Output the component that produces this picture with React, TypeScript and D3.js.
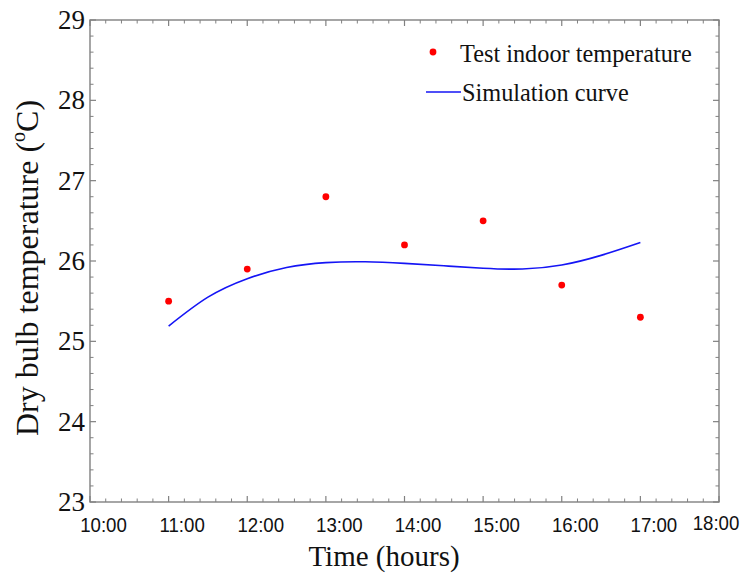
import React from 'react';
import * as d3 from 'd3';

// measured values (hour of day, °C)
const testHours = [11, 12, 13, 14, 15, 16, 17];
const testTemps = [25.5, 25.9, 26.8, 26.2, 26.5, 25.7, 25.3];

const curveHours = [11, 11.5, 12, 12.5, 13, 13.5, 14, 14.5, 15, 15.5, 16, 16.5, 17];
const curveTemps = [25.19, 25.55, 25.78, 25.92, 25.98, 25.99, 25.97, 25.94, 25.91, 25.9, 25.95, 26.07, 26.23];

const xTickValues = [10, 11, 12, 13, 14, 15, 16, 17, 18];
const xTickLabels = ['10:00', '11:00', '12:00', '13:00', '14:00', '15:00', '16:00', '17:00', '18:00'];
const yTickValues = [23, 24, 25, 26, 27, 28, 29];

const width = 746;
const height = 581;
const left = 90;
const right = 719;
const top = 20;
const bottom = 502;

const frameColor = '#808080';
const serif = '"Liberation Serif", "Times New Roman", serif';
const sans = '"Liberation Sans", Arial, sans-serif';

const App = () => {
  const x = d3.scaleLinear().domain([10, 18]).range([left, right]);
  const y = d3.scaleLinear().domain([23, 29]).range([bottom, top]);

  const xMinor = d3.range(10, 18.001, 0.2).filter((v) => Math.abs(v - Math.round(v)) > 0.01);
  const yMinor = d3.range(23, 29.001, 0.2).filter((v) => Math.abs(v - Math.round(v)) > 0.01);

  const line = d3
    .line<number>()
    .x((d, i) => x(curveHours[i]))
    .y((d) => y(d))
    .curve(d3.curveNatural);

  return (
    <svg
      width={width}
      height={height}
      style={{ position: 'absolute', left: 0, top: 0, background: '#fff' }}
    >
      {/* frame */}
      <rect
        x={left}
        y={top}
        width={right - left}
        height={bottom - top}
        fill="none"
        stroke={frameColor}
        strokeWidth={1.4}
      />

      {/* x ticks, bottom and top, pointing inward */}
      {xTickValues.map((v) => (
        <g key={'xt' + v}>
          <line x1={x(v)} x2={x(v)} y1={bottom} y2={bottom - 6} stroke={frameColor} strokeWidth={1.2} />
          <line x1={x(v)} x2={x(v)} y1={top} y2={top + 6} stroke={frameColor} strokeWidth={1.2} />
        </g>
      ))}
      {xMinor.map((v, i) => (
        <g key={'xm' + i}>
          <line x1={x(v)} x2={x(v)} y1={bottom} y2={bottom - 3.5} stroke={frameColor} strokeWidth={1} />
          <line x1={x(v)} x2={x(v)} y1={top} y2={top + 3.5} stroke={frameColor} strokeWidth={1} />
        </g>
      ))}

      {/* y ticks, left and right */}
      {yTickValues.map((v) => (
        <g key={'yt' + v}>
          <line x1={left} x2={left + 6} y1={y(v)} y2={y(v)} stroke={frameColor} strokeWidth={1.2} />
          <line x1={right} x2={right - 6} y1={y(v)} y2={y(v)} stroke={frameColor} strokeWidth={1.2} />
        </g>
      ))}
      {yMinor.map((v, i) => (
        <g key={'ym' + i}>
          <line x1={left} x2={left + 3.5} y1={y(v)} y2={y(v)} stroke={frameColor} strokeWidth={1} />
          <line x1={right} x2={right - 3.5} y1={y(v)} y2={y(v)} stroke={frameColor} strokeWidth={1} />
        </g>
      ))}

      {/* y tick labels */}
      {yTickValues.map((v) => (
        <text
          key={'yl' + v}
          x={left - 5}
          y={y(v) + 9}
          textAnchor="end"
          fontFamily={serif}
          fontSize={27}
          fill="#111"
        >
          {v}
        </text>
      ))}

      {/* x tick labels (narrow sans, shifted right like the original) */}
      {xTickValues.map((v, i) => {
        const last = i === xTickValues.length - 1;
        const cx = last ? x(v) - 3 : x(v) + 13.5;
        const by = last ? 529.5 : 531.5;
        return (
          <text
            key={'xl' + v}
            transform={`translate(${cx},${by}) scale(0.89,1)`}
            textAnchor="middle"
            fontFamily={sans}
            fontSize={21}
            fill="#111"
          >
            {xTickLabels[i]}
          </text>
        );
      })}

      {/* axis titles */}
      <text x={384} y={566} textAnchor="middle" fontFamily={serif} fontSize={29} fill="#111">
        Time (hours)
      </text>
      <text
        transform="translate(38,268) rotate(-90)"
        textAnchor="middle"
        fontFamily={serif}
        fontSize={32}
        fill="#111"
      >
        Dry bulb temperature (
        <tspan fontSize={20} dy={-13}>o</tspan>
        <tspan dy={13}>C)</tspan>
      </text>

      {/* simulation curve */}
      <path d={line(curveTemps) || ''} fill="none" stroke="#1515f5" strokeWidth={1.6} />

      {/* test points */}
      {testHours.map((h, i) => (
        <circle key={'p' + h} cx={x(h)} cy={y(testTemps[i])} r={3.4} fill="#ff0000" />
      ))}

      {/* legend */}
      <circle cx={433} cy={52} r={3.4} fill="#ff0000" />
      <text x={460} y={62} fontFamily={serif} fontSize={24.3} fill="#111">
        Test indoor temperature
      </text>
      <line x1={426} x2={461} y1={92} y2={92} stroke="#1515f5" strokeWidth={1.6} />
      <text x={462} y={101} fontFamily={serif} fontSize={24.3} fill="#111">
        Simulation curve
      </text>
    </svg>
  );
};

export default App;
